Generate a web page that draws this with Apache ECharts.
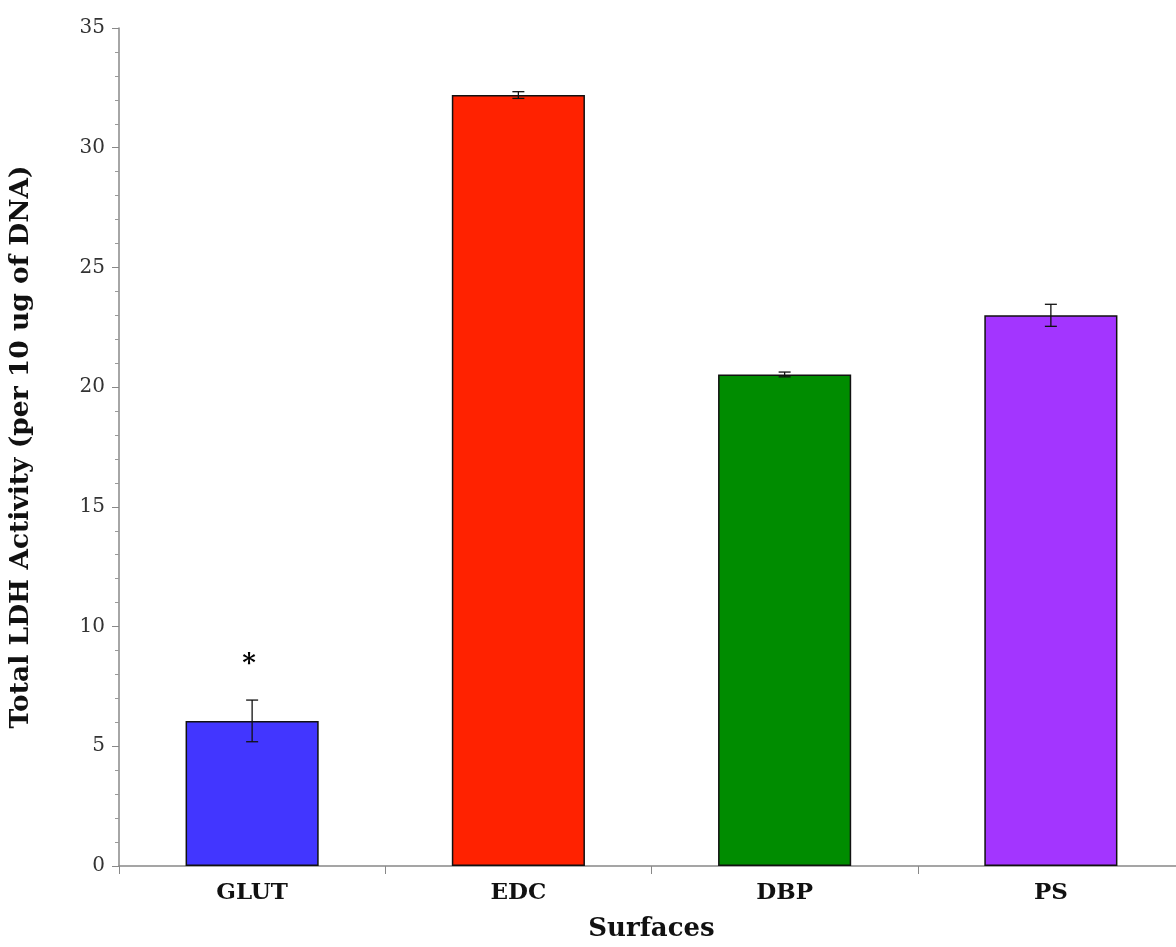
<!DOCTYPE html>
<html><head><meta charset="utf-8">
<script src="https://cdn.jsdelivr.net/npm/echarts@6/dist/echarts.min.js"></script>
<style>html,body{margin:0;padding:0;background:#fff;overflow:hidden;width:1176px;height:947px}#c{width:1184px;height:947px}</style>
</head><body><div id="c"></div>
<script>
const categories = ['GLUT', 'EDC', 'DBP', 'PS'];
const values = [6.06, 32.2, 20.53, 23.0];
const errors = [0.87, 0.14, 0.1, 0.46];
const marks = ['*', '', '', ''];
const barColors = ['#4236FF', '#FF2200', '#008C00', '#A335FF'];
const yTicks = { min: 0, max: 35, interval: 5 };

const FONT = '"DejaVu Serif", "Liberation Serif", serif';
const chart = echarts.init(document.getElementById('c'));
chart.setOption({
  animation: false,
  grid: { left: 117, top: 28, right: 0, bottom: 80, containLabel: false },
  xAxis: {
    type: 'category', data: categories,
    name: 'Surfaces', nameLocation: 'middle', nameGap: 50,
    nameTextStyle: { fontFamily: FONT, fontWeight: 'bold', fontSize: 26, color: '#111' },
    axisLine: { lineStyle: { color: '#888', width: 1.5 } },
    axisTick: { show: true, alignWithLabel: false, length: 8, lineStyle: { color: '#888' } },
    axisLabel: { fontFamily: FONT, fontWeight: 'bold', fontSize: 23, color: '#111', margin: 16 }
  },
  yAxis: {
    type: 'value', min: yTicks.min, max: yTicks.max, interval: yTicks.interval,
    name: 'Total LDH Activity (per 10 ug of DNA)', nameLocation: 'middle', nameGap: 84,
    nameTextStyle: { fontFamily: FONT, fontWeight: 'bold', fontSize: 26.5, color: '#111' },
    axisLine: { show: true, lineStyle: { color: '#888', width: 1.5 } },
    axisTick: { show: true, length: 7, lineStyle: { color: '#888' } },
    minorTick: { show: true, splitNumber: 5, length: 4, lineStyle: { color: '#999' } },
    splitLine: { show: false },
    axisLabel: { fontFamily: FONT, fontSize: 20, color: '#333', margin: 14 }
  },
  series: [
    {
      type: 'bar', barWidth: '50%',
      data: values.map((v, i) => ({ value: v, itemStyle: { color: barColors[i] } })),
      itemStyle: { borderColor: '#111', borderWidth: 1.5 }
    },
    {
      type: 'custom',
      data: values.map((v, i) => [i, v, errors[i]]),
      renderItem: function (params, api) {
        const x = api.value(0), v = api.value(1), e = api.value(2);
        const m = marks[params.dataIndex];
        const top = api.coord([x, v + e]);
        const bot = api.coord([x, v - e]);
        const hw = 6;
        const st = { stroke: '#111', lineWidth: 1.3 };
        const children = [
          { type: 'line', shape: { x1: top[0], y1: top[1], x2: bot[0], y2: bot[1] }, style: st },
          { type: 'line', shape: { x1: top[0] - hw, y1: top[1], x2: top[0] + hw, y2: top[1] }, style: st },
          { type: 'line', shape: { x1: bot[0] - hw, y1: bot[1], x2: bot[0] + hw, y2: bot[1] }, style: st }
        ];
        if (m) {
          children.push({ type: 'text', style: { text: m, x: top[0] - 3, y: top[1] - 36, align: 'center', verticalAlign: 'middle',
            font: 'bold 26px ' + FONT, fill: '#000' } });
        }
        return { type: 'group', children: children };
      },
      z: 5
    }
  ]
});
</script></body></html>
